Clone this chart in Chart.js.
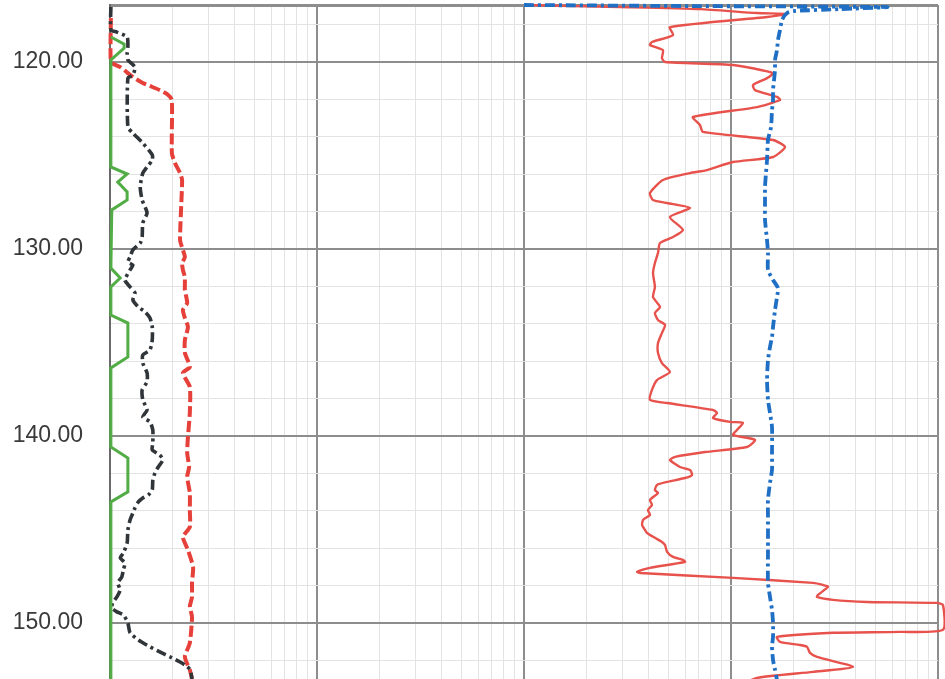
<!DOCTYPE html>
<html>
<head>
<meta charset="utf-8">
<script src="https://cdn.jsdelivr.net/npm/chart.js@4.4.1/dist/chart.umd.min.js"></script>
<style>
  html, body { margin: 0; padding: 0; background: #fff; }
  #wrap { width: 945px; height: 679px; position: relative; }
</style>
</head>
<body>
<div id="wrap"><canvas id="logChart"></canvas></div>
<script>
// Depth track
const depthLabels = [120, 130, 140, 150];
const depthTop = 116.95, depthBottom = 153.0;
const resMin = 1, resMax = 10000;

// Green solid curve
const greenDepth = [118.66, 119.04, 119.25, 119.89, 125.61, 125.99, 126.42, 126.95, 127.38, 127.91, 131.02, 131.55, 132.03, 133.53, 133.96, 135.78, 136.36, 140.59, 141.18, 142.99, 143.53, 153.0];
const greenVal = [1.01, 1.17, 1.17, 1.01, 1.01, 1.21, 1.09, 1.21, 1.21, 1.02, 1.01, 1.12, 1.01, 1.01, 1.22, 1.22, 1.01, 1.01, 1.22, 1.22, 1.01, 1.01];

// Black dash-dot curve
const blackDepth = [117.06, 118.29, 118.40, 118.66, 119.20, 119.52, 119.89, 120.27, 120.70, 120.86, 123.48, 123.80, 124.33, 124.97, 125.24, 125.61, 125.94, 126.68, 127.38, 128.07, 128.61, 129.36, 129.68, 130.05, 130.43, 130.70, 130.86, 131.12, 131.66, 132.03, 132.35, 132.73, 133.10, 133.37, 133.69, 134.17, 134.87, 135.40, 135.67, 136.10, 136.63, 137.11, 137.54, 138.07, 138.61, 138.98, 139.25, 139.68, 140.37, 140.75, 141.02, 141.28, 141.66, 141.98, 142.35, 142.89, 143.16, 143.32, 143.53, 143.85, 144.12, 144.49, 145.03, 145.72, 146.26, 146.52, 146.79, 147.17, 147.54, 147.86, 148.24, 148.61, 148.93, 149.20, 149.41, 149.57, 150.00, 150.53, 150.91, 151.28, 151.55, 151.82, 152.09, 152.25, 152.51, 153.0];
const blackVal = [1.01, 1.01, 1.08, 1.21, 1.22, 1.21, 1.22, 1.32, 1.29, 1.22, 1.22, 1.29, 1.44, 1.60, 1.60, 1.51, 1.44, 1.40, 1.43, 1.51, 1.44, 1.43, 1.40, 1.29, 1.25, 1.22, 1.29, 1.25, 1.18, 1.25, 1.32, 1.29, 1.37, 1.48, 1.56, 1.60, 1.60, 1.56, 1.44, 1.44, 1.51, 1.51, 1.43, 1.44, 1.51, 1.44, 1.56, 1.61, 1.61, 1.60, 1.74, 1.80, 1.71, 1.65, 1.61, 1.60, 1.53, 1.44, 1.37, 1.32, 1.29, 1.25, 1.22, 1.21, 1.16, 1.12, 1.18, 1.16, 1.14, 1.09, 1.12, 1.08, 1.03, 1.02, 1.08, 1.16, 1.22, 1.25, 1.37, 1.56, 1.74, 1.95, 2.18, 2.30, 2.44, 2.49];

// Red dashed curve
const redDashDepth = [117.65, 120.00, 120.27, 120.80, 121.12, 121.50, 121.76, 122.03, 124.87, 125.40, 125.94, 126.31, 129.52, 130.05, 130.43, 130.75, 131.12, 131.50, 132.19, 132.89, 133.26, 133.69, 134.17, 134.87, 135.56, 136.31, 136.63, 137.38, 138.77, 140.05, 140.91, 141.66, 142.19, 143.05, 143.96, 144.87, 145.40, 146.10, 147.01, 147.86, 148.61, 149.14, 149.68, 151.07, 151.82, 152.51, 153.0];
const redDashVal = [1.01, 1.01, 1.12, 1.29, 1.44, 1.74, 1.91, 1.99, 1.99, 2.06, 2.18, 2.23, 2.18, 2.25, 2.30, 2.23, 2.25, 2.30, 2.30, 2.36, 2.25, 2.30, 2.38, 2.30, 2.30, 2.43, 2.25, 2.43, 2.43, 2.38, 2.36, 2.41, 2.36, 2.43, 2.43, 2.43, 2.25, 2.38, 2.52, 2.49, 2.49, 2.43, 2.49, 2.43, 2.30, 2.43, 2.49];

// Red solid curve
const redDepth = [116.95, 117.06, 117.17, 117.38, 117.43, 117.59, 118.13, 118.56, 118.93, 119.09, 119.36, 119.79, 120.00, 120.16, 120.59, 120.86, 121.23, 121.50, 121.87, 122.03, 122.41, 122.94, 123.37, 123.74, 124.17, 124.55, 125.08, 125.35, 125.78, 125.94, 126.31, 127.01, 127.38, 127.54, 127.81, 128.29, 128.98, 129.36, 129.68, 130.21, 130.75, 131.28, 132.03, 132.57, 133.10, 133.42, 133.80, 134.06, 134.49, 135.03, 135.56, 136.10, 136.58, 137.01, 137.54, 138.07, 138.24, 138.61, 138.77, 139.04, 139.25, 139.30, 139.68, 139.95, 140.21, 140.59, 140.86, 141.12, 141.28, 141.66, 141.82, 142.09, 142.25, 142.46, 142.62, 142.89, 143.05, 143.42, 143.69, 143.96, 144.22, 144.49, 144.76, 145.03, 145.19, 145.45, 145.67, 145.83, 146.20, 146.47, 146.63, 146.74, 146.90, 147.06, 147.27, 147.33, 147.59, 147.86, 147.97, 148.07, 148.50, 148.61, 148.77, 148.88, 148.93, 149.04, 150.37, 150.48, 150.53, 150.75, 151.02, 151.18, 151.28, 151.60, 151.82, 152.35, 152.62, 152.94, 153.32];
const redVal = [100, 291, 708, 1335, 1865, 1493, 507, 525, 415, 406, 469, 464, 480, 1023, 1596, 1493, 1278, 1306, 1668, 1725, 1336, 655, 708, 732, 1596, 1824, 1596, 1023, 766, 634, 469, 406, 420, 491, 634, 507, 586, 525, 454, 444, 429, 420, 429, 420, 454, 429, 444, 480, 464, 444, 444, 464, 507, 439, 415, 406, 491, 819, 856, 819, 989, 1143, 1069, 1023, 1306, 1195, 749, 537, 507, 567, 634, 648, 600, 491, 439, 429, 444, 406, 415, 397, 406, 376, 372, 384, 393, 429, 464, 480, 491, 525, 586, 600, 491, 406, 352, 364, 1023, 2489, 2783, 2942, 2632, 2603, 3110, 4539, 9890, 10573, 10573, 6554, 3110, 1668, 1725, 2154, 2329, 2408, 2603, 3885, 2489, 1336, 1105];

// Blue dash-dot curve
const blueDepth = [116.95, 117.01, 117.06, 117.17, 117.27, 117.38, 117.75, 118.29, 118.82, 119.36, 119.89, 120.43, 120.96, 121.50, 122.03, 122.57, 123.48, 124.17, 125.24, 125.94, 126.68, 127.38, 128.45, 129.52, 130.21, 131.12, 131.66, 132.09, 132.57, 133.26, 134.17, 134.71, 135.24, 135.94, 137.01, 138.07, 138.77, 139.52, 140.91, 141.82, 142.51, 143.42, 144.33, 146.10, 147.86, 148.61, 149.30, 150.00, 150.75, 151.28, 151.98, 152.51, 153.05];
const blueVal = [100, 708, 5670, 3362, 2038, 1865, 1764, 1725, 1687, 1668, 1632, 1632, 1614, 1596, 1596, 1578, 1561, 1509, 1493, 1476, 1460, 1460, 1460, 1493, 1509, 1509, 1596, 1687, 1668, 1632, 1596, 1578, 1543, 1509, 1493, 1509, 1543, 1578, 1578, 1578, 1543, 1509, 1509, 1509, 1509, 1543, 1578, 1596, 1596, 1578, 1596, 1632, 1668];

const pairs = (depth, val) => depth.map((d, i) => ({ x: val[i], y: d }));

// Grid positions: log decades with 2..9 minors, depth every 2
const xGrid = [];
[1, 10, 100, 1000].forEach(d => { for (let k = 1; k < 10; k++) xGrid.push(d * k); });
xGrid.push(resMax);
const yGrid = [depthTop];
for (let v = 118; v < depthBottom; v += 2) yGrid.push(v);

const isDecade = v => Math.abs(Math.log10(v) - Math.round(Math.log10(v))) < 1e-6;
const isDepthMajor = v => depthLabels.includes(v) || v === depthTop;

const curve = (data, color, width, dash, tension) => ({
    data, showLine: true, borderColor: color, backgroundColor: color,
    borderWidth: width, borderDash: dash || [], pointRadius: 0, tension: tension || 0,
    clip: { left: 3, top: 4, right: 8, bottom: 4 }
});

new Chart(document.getElementById('logChart').getContext('2d'), {
    type: 'scatter',
    data: {
        datasets: [
            curve(pairs(greenDepth, greenVal), '#52ad46', 3),
            curve(pairs(blackDepth, blackVal), '#30353a', 3.6, [10, 4, 3, 4], 0.2),
            curve(pairs(redDashDepth, redDashVal), '#e6403a', 4, [11, 4], 0.2),
            curve(pairs(blueDepth, blueVal), '#1f6fc5', 3.8, [10, 4, 3, 4], 0.2),
            curve(pairs(redDepth, redVal), '#e8524c', 2.4, null, 0.2)
        ]
    },
    options: {
        responsive: true,
        maintainAspectRatio: false,
        animation: false,
        layout: { padding: { top: 5, right: 7, bottom: 0, left: 0 } },
        plugins: { legend: { display: false }, tooltip: { enabled: false } },
        scales: {
            x: {
                type: 'logarithmic', min: resMin, max: resMax,
                afterBuildTicks: s => { s.ticks = xGrid.map(v => ({ value: v })); },
                ticks: { display: false },
                grid: {
                    drawTicks: false,
                    color: c => isDecade(c.tick.value) ? '#8d8d8d' : '#e3e3e3',
                    lineWidth: c => isDecade(c.tick.value) ? 2 : 1
                },
                border: { display: false }
            },
            y: {
                type: 'linear', reverse: true, min: depthTop, max: depthBottom,
                afterBuildTicks: s => { s.ticks = yGrid.map(v => ({ value: v })); },
                afterFit: s => { s.width = 110; s.paddingTop = 0; s.paddingBottom = 0; },
                ticks: {
                    autoSkip: false, padding: 27, color: '#3a3a3a',
                    font: { family: '"Liberation Sans", Arial, sans-serif', size: 23 },
                    callback: v => depthLabels.includes(v) ? v.toFixed(2) : ''
                },
                grid: {
                    drawTicks: false,
                    color: c => isDepthMajor(c.tick.value) ? '#8d8d8d' : '#e3e3e3',
                    lineWidth: c => c.tick.value === depthTop ? 3 : (isDepthMajor(c.tick.value) ? 2 : 1)
                },
                border: { display: true, color: '#6a6a6a', width: 2 }
            }
        }
    }
});
</script>
</body>
</html>
